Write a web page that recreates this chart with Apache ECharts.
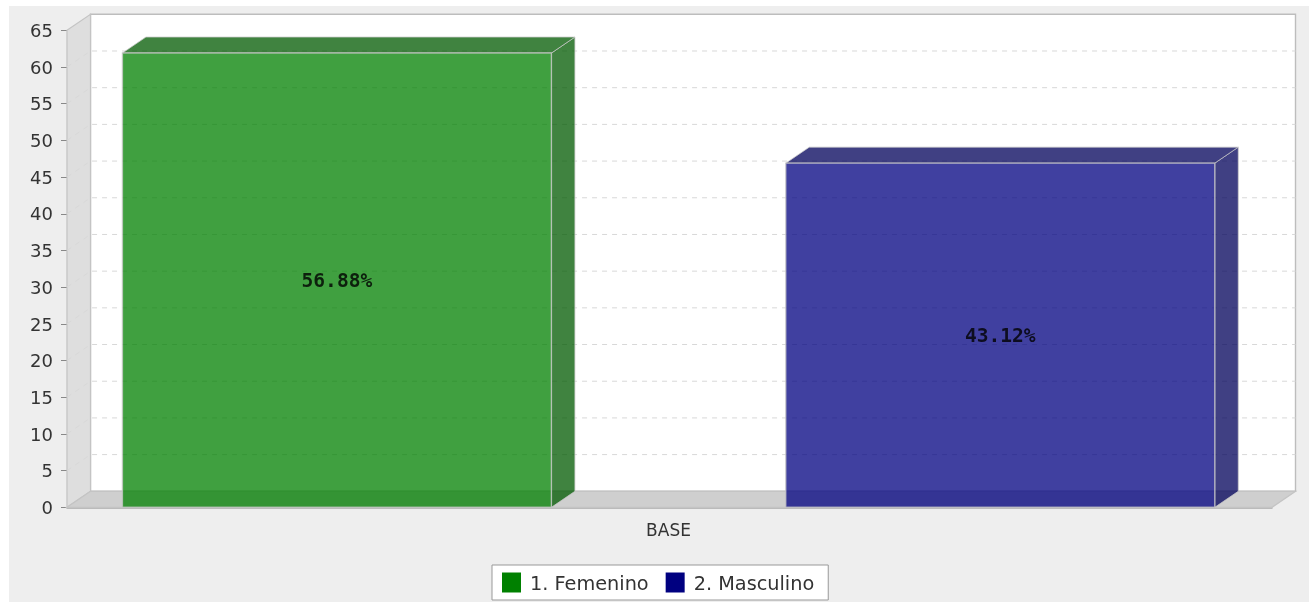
<!DOCTYPE html>
<html>
<head>
<meta charset="utf-8">
<style>html,body{margin:0;padding:0;background:#fff}#chart{width:1309px;height:602px}</style>
<script src="https://cdn.jsdelivr.net/npm/echarts@6/dist/echarts.min.js"></script>
</head>
<body>
<div id="chart"></div>
<script>
const categories = ['BASE'];
const seriesNames = ['1. Femenino', '2. Masculino'];
const femeninoValues = [61.9];
const masculinoValues = [46.9];
const barLabels = ['56.88%', '43.12%'];
const seriesColors = ['#008000', '#000080'];
const sideColors = ['#005900', '#000059'];
const gridValues = [5, 10, 15, 20, 25, 30, 35, 40, 45, 50, 55, 60];

const DX = 23.5, DY = -16;
const MARGIN = 0.046, BAR = 0.356, GAP = 0.1945;
const poly = (points, style) => ({ type: 'polygon', shape: { points }, style });

function renderWalls(params, api) {
  const x0 = params.coordSys.x, x1 = x0 + params.coordSys.width;
  const yBottom = api.coord([0, 0])[1], yTop = api.coord([0, 65])[1];
  const children = [
    poly([[x0 + DX, yTop + DY], [x1 + DX, yTop + DY], [x1 + DX, yBottom + DY], [x0 + DX, yBottom + DY]],
      { fill: '#ffffff', stroke: '#bdbdbd', lineWidth: 1.4 }),
    poly([[x0, yTop], [x0 + DX, yTop + DY], [x0 + DX, yBottom + DY], [x0, yBottom]],
      { fill: '#dedede', stroke: '#c4c4c4', lineWidth: 1.2 }),
    poly([[x0, yBottom], [x0 + DX, yBottom + DY], [x1 + DX, yBottom + DY], [x1, yBottom]],
      { fill: '#cfcfcf', stroke: '#c4c4c4', lineWidth: 1.2 })
  ];
  gridValues.forEach(v => {
    const y = api.coord([0, v])[1];
    children.push({
      type: 'polyline',
      shape: { points: [[x0, y], [x0 + DX, y + DY], [x1 + DX, y + DY]] },
      style: { fill: 'none', stroke: '#d8d8d8', lineWidth: 1, lineDash: [5, 5] }
    });
  });
  return { type: 'group', children };
}

function renderBar(seriesIndex) {
  return function (params, api) {
    const band = api.size([1, 0])[0];
    const cx = api.coord([api.value(0), 0])[0];
    const left = cx - band / 2 + band * (MARGIN + seriesIndex * (BAR + GAP));
    const right = left + band * BAR;
    const bottom = api.coord([api.value(0), 0])[1];
    const top = api.coord([api.value(0), api.value(1)])[1];
    return {
      type: 'group',
      children: [
        poly([[right, bottom], [right + DX, bottom + DY], [right + DX, top + DY], [right, top]],
          { fill: sideColors[seriesIndex], opacity: 0.75, stroke: '#c8c8c8', lineWidth: 1 }),
        poly([[left, top], [right, top], [right + DX, top + DY], [left + DX, top + DY]],
          { fill: sideColors[seriesIndex], opacity: 0.75, stroke: '#c8c8c8', lineWidth: 1 }),
        poly([[left, bottom], [right, bottom], [right, top], [left, top]],
          { fill: seriesColors[seriesIndex], stroke: '#c8c8c8', lineWidth: 1.4, opacity: 0.75 }),
        {
          type: 'text',
          z2: 10,
          style: {
            x: (left + right) / 2,
            y: (top + bottom) / 2 + 1.5,
            text: barLabels[seriesIndex],
            align: 'center',
            verticalAlign: 'middle',
            fill: '#000',
            opacity: 0.8,
            font: 'bold 19.6px "DejaVu Sans Mono", monospace'
          }
        }
      ]
    };
  };
}

const chart = echarts.init(document.getElementById('chart'), null, { renderer: 'canvas' });
chart.setOption({
  animation: false,
  backgroundColor: 'transparent',
  graphic: [{
    type: 'rect', z: -10, silent: true,
    shape: { x: 9, y: 6, width: 1300, height: 596 },
    style: { fill: '#eeeeee' }
  }],
  grid: { left: 67, right: 37, top: 30.3, height: 477, containLabel: false },
  legend: {
    left: 492, top: 565,
    selectedMode: false,
    data: seriesNames,
    icon: 'rect',
    itemWidth: 19, itemHeight: 20, itemGap: 17,
    padding: [6, 14, 6, 10],
    backgroundColor: '#ffffff',
    borderColor: '#999999', borderWidth: 1,
    formatter: '{t|{name}}',
    textStyle: {
      rich: { t: { fontFamily: 'DejaVu Sans', fontSize: 19.3, lineHeight: 21, color: '#333333', padding: [4, 0, 0, 4] } }
    }
  },
  xAxis: {
    type: 'category',
    data: categories,
    axisLine: { show: true, lineStyle: { color: '#aaaaaa', width: 1.5 } },
    axisTick: { show: false },
    axisLabel: { margin: 16, fontFamily: 'DejaVu Sans', fontSize: 17, color: '#333333', padding: [0, 2, 0, 0] }
  },
  yAxis: {
    type: 'value', min: 0, max: 65, interval: 5,
    axisLine: { show: true, lineStyle: { color: '#c4c4c4', width: 1.2 } },
    axisTick: { show: true, length: 6, lineStyle: { color: '#888888' } },
    axisLabel: {
      margin: 14,
      formatter: '{v|{value}}',
      rich: { v: { fontFamily: 'DejaVu Sans', fontSize: 18, color: '#333333', padding: [4, 0, 0, 0] } }
    },
    splitLine: { show: false }
  },
  series: [
    {
      type: 'custom', silent: true, z: 1, clip: false,
      renderItem: renderWalls, data: [[0, 0]], encode: { x: 0, y: 1 }, legendHoverLink: false
    },
    {
      name: seriesNames[0], type: 'custom', z: 3, clip: false,
      itemStyle: { color: seriesColors[0] },
      renderItem: renderBar(0),
      data: [[categories[0], femeninoValues[0]]], encode: { x: 0, y: 1 }
    },
    {
      name: seriesNames[1], type: 'custom', z: 3, clip: false,
      itemStyle: { color: seriesColors[1] },
      renderItem: renderBar(1),
      data: [[categories[0], masculinoValues[0]]], encode: { x: 0, y: 1 }
    }
  ]
});
</script>
</body>
</html>
